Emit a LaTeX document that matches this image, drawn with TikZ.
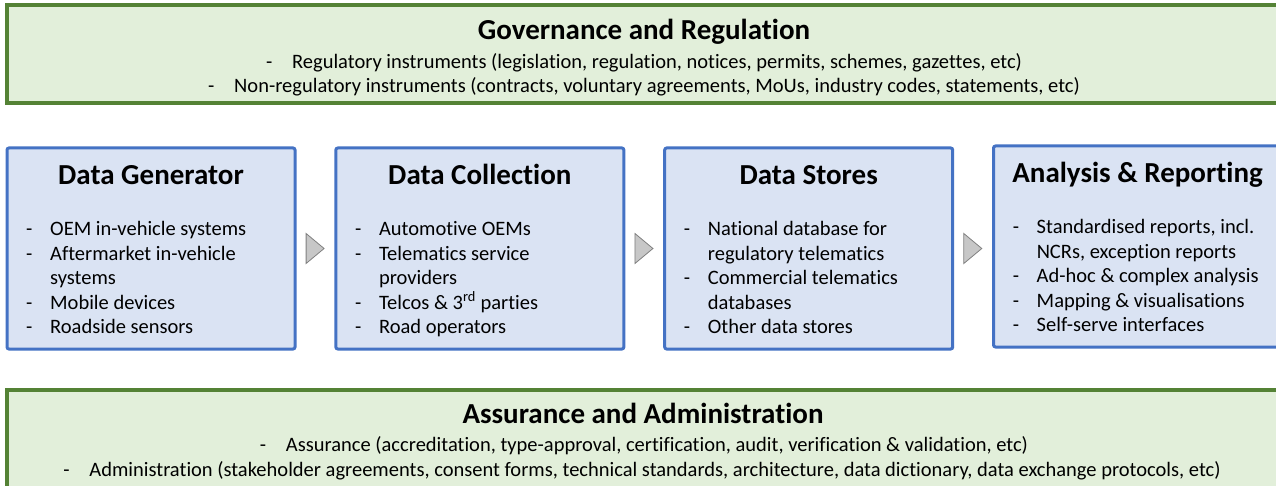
\documentclass[tikz,border=0pt]{standalone}
\usepackage{fontspec}
\setmainfont{Carlito}[Ligatures=NoCommon]
\usetikzlibrary{positioning,shapes.geometric}
\definecolor{bandgreen}{HTML}{548235}
\definecolor{bandfill}{HTML}{E2EFDA}
\definecolor{stageblue}{HTML}{4472C4}
\definecolor{stagefill}{HTML}{DAE3F3}
\newcommand{\bandbullet}{\makebox[26pt][l]{-}}
\newcommand{\stagebullet}{\makebox[24pt][l]{-}}
\tikzset{band node/.style={rectangle, draw=bandgreen, fill=bandfill, line width=3.5pt, minimum width=1274pt, minimum height=98pt, inner sep=0pt}, }
\tikzset{stage node/.style={rectangle, rounded corners=2pt, draw=stageblue, fill=stagefill, line width=3pt, minimum width=288pt, minimum height=201pt, inner sep=0pt}, }
\tikzset{flow arrow/.style={isosceles triangle, isosceles triangle stretches, fill=black!22, draw=black!50, line width=0.8pt, minimum width=30pt, minimum height=18pt, inner sep=0pt}, }
\tikzset{head text/.style={font=\fontsize{29}{34}\selectfont\bfseries, anchor=base, inner sep=0pt}, }
\tikzset{item text/.style={font=\fontsize{20.5}{24.5}\selectfont, inner sep=0pt}, }

\begin{document}
\begin{tikzpicture}[x=1pt, y=-1pt]
	\path[use as bounding box, fill=white] (0,0) rectangle (1276,486);

	% top and bottom bands
	\node[band node] (gov) at (644,54) {};
	\node[band node] (assur) at (644,439) {};
	\node[head text] (gov-title) at (644,39.5) {Governance and Regulation};
	\node[item text, anchor=base] (gov-1) at (644,68.5) {\bandbullet Regulatory instruments (legislation, regulation, notices, permits, schemes, gazettes, etc)};
	\node[item text, anchor=base] (gov-2) at (644,92.5) {\bandbullet Non-regulatory instruments (contracts, voluntary agreements, MoUs, industry codes, statements, etc)};
	\node[head text] (assur-title) at (643,423) {Assurance and Administration};
	\node[item text, anchor=base] (assur-1) at (644,451) {\bandbullet Assurance (accreditation, type-approval, certification, audit, verification \& validation, etc)};
	\node[item text, anchor=base] (assur-2) at (642,476) {\bandbullet Administration (stakeholder agreements, consent forms, technical standards, architecture, data dictionary, data exchange protocols, etc)};

	% the four stages
	\node[stage node] (gen) at (151,248.5) {};
	\node[flow arrow] (a1) [right=9.2pt of gen] {};
	\node[stage node] (coll) [right=9.2pt of a1] {};
	\node[flow arrow] (a2) [right=9.2pt of coll] {};
	\node[stage node] (store) [right=9.2pt of a2] {};
	\node[flow arrow] (a3) [right=9.2pt of store] {};
	\node[stage node] (report) [right=9.2pt of a3, yshift=2pt] {};

	\node[head text] (gen-title) at ([yshift=-38pt]gen.north) {Data Generator};
	\node[head text] (coll-title) at ([yshift=-38pt]coll.north) {Data Collection};
	\node[head text] (store-title) at ([yshift=-38pt]store.north) {Data Stores};
	\node[head text] (report-title) at ([yshift=-38pt]report.north) {Analysis \& Reporting};

	\node[item text, align=left, anchor=north west] (gen-list) at ([xshift=20.5pt, yshift=-75pt]gen.north west)
		{\stagebullet OEM in-vehicle systems\\ \stagebullet Aftermarket in-vehicle\\ \hspace*{24pt}systems\\ \stagebullet Mobile devices\\ \stagebullet Roadside sensors};
	\node[item text, align=left, anchor=north west] (coll-list) at ([xshift=20.5pt, yshift=-75pt]coll.north west)
		{\stagebullet Automotive OEMs\\ \stagebullet Telematics service\\ \hspace*{24pt}providers\\ \stagebullet Telcos \& 3\textsuperscript{rd} parties\\ \stagebullet Road operators};
	\node[item text, align=left, anchor=north west] (store-list) at ([xshift=20.5pt, yshift=-75pt]store.north west)
		{\stagebullet National database for\\ \hspace*{24pt}regulatory telematics\\ \stagebullet Commercial telematics\\ \hspace*{24pt}databases\\ \stagebullet Other data stores};
	\node[item text, align=left, anchor=north west] (report-list) at ([xshift=20.5pt, yshift=-75pt]report.north west)
		{\stagebullet Standardised reports, incl.\\ \hspace*{24pt}NCRs, exception reports\\ \stagebullet Ad-hoc \& complex analysis\\ \stagebullet Mapping \& visualisations\\ \stagebullet Self-serve interfaces};
\end{tikzpicture}
\end{document}
